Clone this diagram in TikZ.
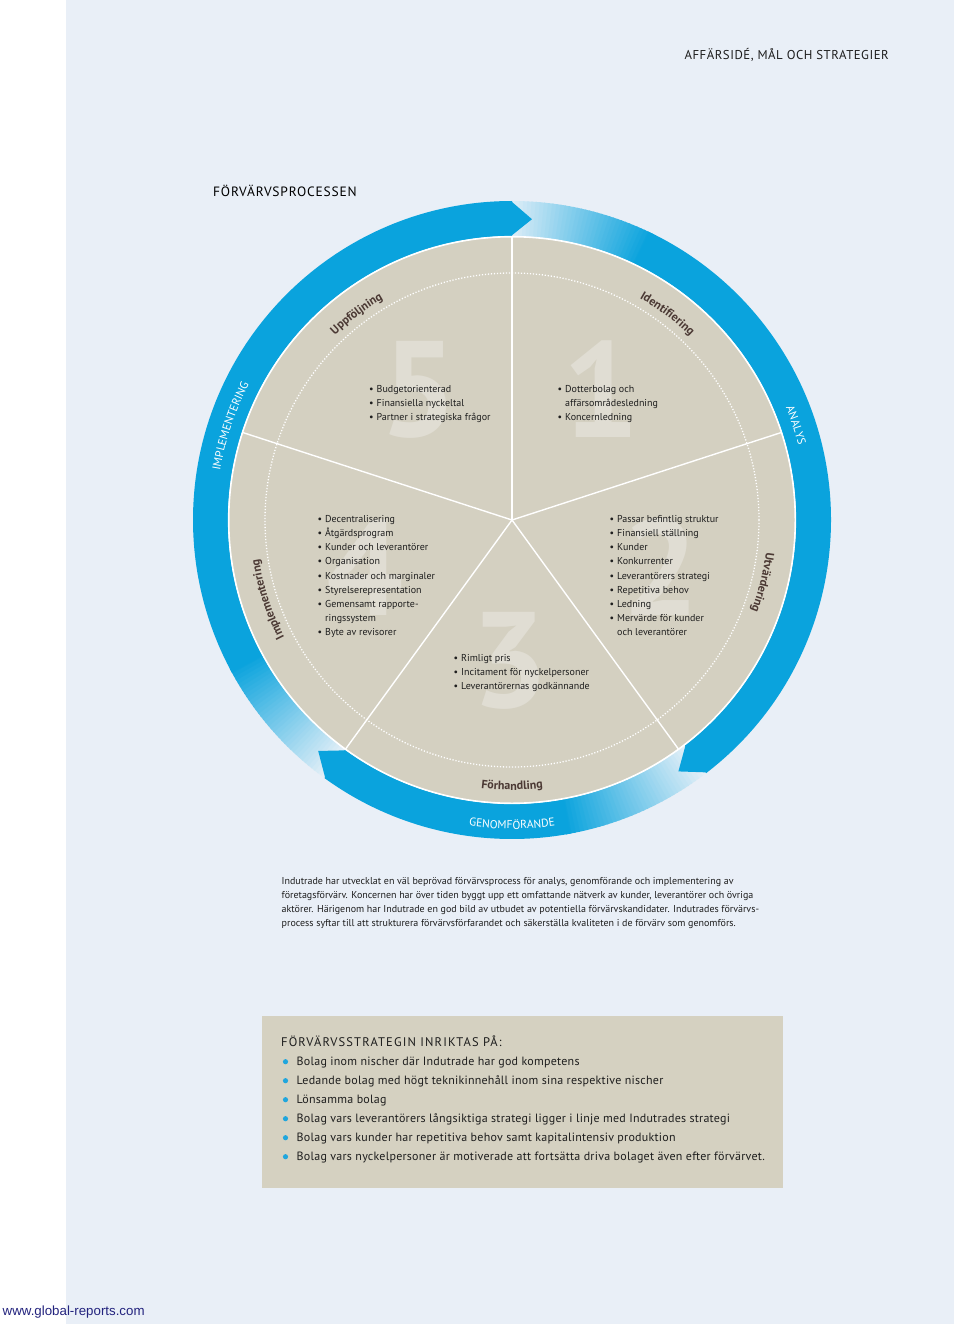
\documentclass[tikz,border=0pt]{standalone}
\usepackage{fontspec}
\setmainfont{PT Sans}
\setsansfont{PT Sans}
\newfontfamily\spacedfont{PT Sans}[LetterSpace=6]
\newfontfamily\boxtitlefont{PT Sans}[LetterSpace=9]
\newfontfamily\titlefont{PT Sans}[LetterSpace=4]
\newfontfamily\boxfont{PT Sans}[LetterSpace=2]
\newfontfamily\webfont{Liberation Sans}
\usetikzlibrary{decorations.text}
\definecolor{pagebg}{HTML}{E9EFF7}
\definecolor{beige}{HTML}{D4D0C1}
\definecolor{boxbeige}{HTML}{D5D1C1}
\definecolor{numc}{HTML}{E0DDD3}
\definecolor{ringblue}{HTML}{0AA3DD}
\definecolor{ringlight}{HTML}{E6F0F8}
\definecolor{txt}{HTML}{1E1E1E}
\definecolor{lbl}{HTML}{4B3934}
\definecolor{weblink}{HTML}{23237E}
\definecolor{dotblue}{HTML}{20A6DD}
\newcommand\bul{\llap{\textbullet\hspace{3pt}}}
\newcommand\lblfont{\fontsize{12}{14}\selectfont\bfseries\color{lbl}}
\newcommand\ringlab{\fontsize{11.5}{13}\selectfont\color{white}}
\def\rin{284}
\def\rout{319}
\begin{document}
\begin{tikzpicture}[x=1pt,y=1pt,
  sect/.style={font=\fontsize{10}{12}\selectfont, text=txt, inner sep=0pt, anchor=base west},
  para/.style={font=\fontsize{10}{12}\selectfont, text=txt, inner sep=0pt, anchor=base west},
  boxline/.style={font=\boxfont\fontsize{12}{14}\selectfont, text=txt, inner sep=0pt, anchor=base west},
  bignum/.style={font=\fontsize{136}{136}\selectfont\bfseries, text=numc, inner sep=0pt, anchor=center},
  curvelbl/.style={decorate, decoration={text along path, text align=center, text={#1}}}
]
\useasboundingbox (0,0) rectangle (960,-1324);
\fill[white] (0,0) rectangle (960,-1324);
\fill[pagebg] (66,0) rectangle (954,-1324);

% ---------- ring and wheel ----------
\begin{scope}[shift={(512,-520)}]
\coordinate (c) at (0,0);
% gradient starts of the three arrows
\foreach \s/\e in {234/208, 91/64, -52.5/-80}{
  \foreach \k in {0,...,35}{
    \pgfmathsetmacro\angA{\s+(\e-\s)*\k/36}
    \pgfmathsetmacro\angB{\s+(\e-\s)*(\k+1.3)/36}
    \pgfmathsetmacro\pc{100*(\k+0.5)/36}
    \fill[ringblue!\pc!ringlight] (\angA:\rin) arc[start angle=\angA, end angle=\angB, radius=\rin]
      -- (\angB:\rout) arc[start angle=\angB, end angle=\angA, radius=\rout] -- cycle;
  }
}
% solid bodies
\fill[ringblue] (208.5:\rin) arc[start angle=208.5, end angle=90, radius=\rin]
  -- (90:\rout) arc[start angle=90, end angle=208.5, radius=\rout] -- cycle;
\fill[ringblue] (64.5:\rin) arc[start angle=64.5, end angle=-52.5, radius=\rin]
  -- (-52.5:\rout) arc[start angle=-52.5, end angle=64.5, radius=\rout] -- cycle;
\fill[ringblue] (-79.5:\rin) arc[start angle=-79.5, end angle=-126, radius=\rin]
  -- (-126:\rout) arc[start angle=-126, end angle=-79.5, radius=\rout] -- cycle;
% arrow tips
\fill[ringblue] (90.2:\rin) -- (86.2:301.5) -- (90.2:\rout) -- cycle;
\fill[ringblue] (-52.3:\rin) -- (-56.5:301.5) -- (-52.3:\rout) -- cycle;
\fill[ringblue] (-125.8:\rin) -- (-130:301.5) -- (-125.8:\rout) -- cycle;

% wheel
\fill[beige] (c) circle[radius=283];
\draw[white, line width=1.6] (c) circle[radius=283.3];
\end{scope}

% big faint numbers
\node[bignum] (n5) at (419.5,-390) {5};
\node[bignum] (n1) at (601,-389) {1};
\node[bignum] (n2) at (661,-567) {2};
\node[bignum] (n3) at (510,-661) {3};
\node[bignum] (n4) at (365,-568) {4};

\begin{scope}[shift={(512,-520)}]
\coordinate (c2) at (0,0);
\draw[white, line width=1.3, dash pattern=on 1.2pt off 1.8pt] (c2) circle[radius=247];
\foreach \a in {90,18,-54,-126,162} \draw[white, line width=1.4] (c2) -- (\a:283);

% inner curved labels
\path[curvelbl={|\lblfont|Uppföljning}] (150:256) arc[start angle=150, end angle=104, radius=256];
\path[curvelbl={|\lblfont|Identifiering}] (76:256) arc[start angle=76, end angle=30, radius=256];
\path[curvelbl={|\lblfont|Utvärdering}] (9:256) arc[start angle=9, end angle=-37, radius=256];
\path[curvelbl={|\lblfont|Implementering}] (221:256) arc[start angle=221, end angle=175, radius=256];
\path[curvelbl={|\lblfont|Förhandling}] (-113:270) arc[start angle=-113, end angle=-67, radius=270];
% ring labels
\path[curvelbl={|\ringlab|IMPLEMENTERING}] (185:296) arc[start angle=185, end angle=138, radius=296];
\path[curvelbl={|\ringlab|ANALYS}] (40:296) arc[start angle=40, end angle=-3, radius=296];
\path[curvelbl={|\ringlab|GENOMFÖRANDE}] (-115:309) arc[start angle=-115, end angle=-65, radius=309];
\end{scope}

% sector texts
\foreach \t [count=\i from 0] in {\bul Budgetorienterad, \bul Finansiella nyckeltal, \bul Partner i strategiska frågor}
  \node[sect] (s5l\i) at (376.5,{-392-14*\i}) {\t};
\foreach \t [count=\i from 0] in {\bul Dotterbolag och, affärsområdesledning, \bul Koncernledning}
  \node[sect] (s1l\i) at (565,{-392-14*\i}) {\t};
\foreach \t [count=\i from 0] in {\bul Decentralisering, \bul Åtgärdsprogram, \bul Kunder och leverantörer, \bul Organisation, \bul Kostnader och marginaler, \bul Styrelserepresentation, \bul Gemensamt rapporte-, ringssystem, \bul Byte av revisorer}
  \node[sect] (s4l\i) at (325,{-522.6-14.1*\i}) {\t};
\foreach \t [count=\i from 0] in {\bul Passar befintlig struktur, \bul Finansiell ställning, \bul Kunder, \bul Konkurrenter, \bul Leverantörers strategi, \bul Repetitiva behov, \bul Ledning, \bul Mervärde för kunder, och leverantörer}
  \node[sect] (s2l\i) at (617,{-522.6-14.1*\i}) {\t};
\foreach \t [count=\i from 0] in {\bul Rimligt pris, \bul Incitament för nyckelpersoner, \bul Leverantörernas godkännande}
  \node[sect] (s3l\i) at (461,{-661.5-14*\i}) {\t};

% headings
\node[inner sep=0pt, anchor=base east, text=txt, font=\titlefont\fontsize{12.8}{14}\selectfont] (pagetitle) at (889,-60) {AFFÄRSIDÉ, MÅL OCH STRATEGIER};
\node[inner sep=0pt, anchor=base west, text=black, font=\spacedfont\fontsize{13.5}{15}\selectfont] (proctitle) at (213,-197) {FÖRVÄRVSPROCESSEN};

% paragraph
\node[para] (p1) at (281.5,-884) {Indutrade har utvecklat en väl beprövad förvärvsprocess för analys, genomförande och implementering av};
\node[para] (p2) at (281.5,-898.2) {företagsförvärv. Koncernen har över tiden byggt upp ett omfattande nätverk av kunder, leverantörer och övriga};
\node[para] (p3) at (281.5,-912.4) {aktörer. Härigenom har Indutrade en god bild av utbudet av potentiella förvärvskandidater. Indutrades förvärvs-};
\node[para] (p4) at (281.5,-926.6) {process syftar till att strukturera förvärvsförfarandet och säkerställa kvaliteten i de förvärv som genomförs.};

% strategy box
\fill[boxbeige] (262,-1016) rectangle (783,-1188);
\node[inner sep=0pt, anchor=base west, text=txt, font=\boxtitlefont\fontsize{12.5}{14}\selectfont] (boxtitle) at (281,-1046) {FÖRVÄRVSSTRATEGIN INRIKTAS PÅ:};
\foreach \t [count=\i from 0] in {Bolag inom nischer där Indutrade har god kompetens, Ledande bolag med högt teknikinnehåll inom sina respektive nischer, Lönsamma bolag, Bolag vars leverantörers långsiktiga strategi ligger i linje med Indutrades strategi, Bolag vars kunder har repetitiva behov samt kapitalintensiv produktion, Bolag vars nyckelpersoner är motiverade att fortsätta driva bolaget även efter förvärvet.}{
  \fill[dotblue] (285.5,{-1061.7-19*\i}) circle[radius=2.6];
  \node[boxline] (b\i) at (296.5,{-1065.5-19*\i}) {\t};
}

% source
\node[inner sep=0pt, anchor=base west, text=weblink, font=\webfont\fontsize{13.3}{15}\selectfont] (web) at (2.5,-1315) {www.global-reports.com};
\end{tikzpicture}
\end{document}
